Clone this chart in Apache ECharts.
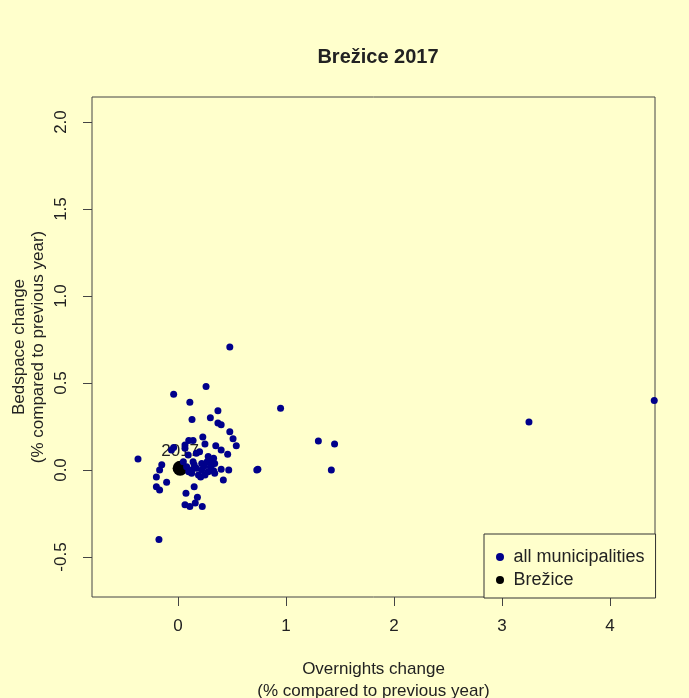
<!DOCTYPE html>
<html>
<head>
<meta charset="utf-8">
<script src="https://cdn.jsdelivr.net/npm/echarts@6/dist/echarts.min.js"></script>
<style>
  html, body { margin: 0; padding: 0; background: #FFFFCC; }
  #chart { width: 689px; height: 698px; }
</style>
</head>
<body>
<div id="chart"></div>
<script>
// ---- data ----
const title = 'Brežice 2017';
const highlightName = 'Brežice';
const highlightLabel = '2017';
const xTicks = [0, 1, 2, 3, 4];
const yTicks = [-0.5, 0, 0.5, 1, 1.5, 2];
// overnights change (x) and bedspace change (y) for all municipalities
const allX = [4.41, 3.25, 0.95, 1.30, 1.45, 1.42, 0.48, 0.26, -0.04, 0.11,
  0.37, 0.30, 0.13, 0.37, 0.40, 0.48, 0.51, 0.54, 0.23, 0.10,
  0.14, 0.25, 0.35, 0.40, 0.46, -0.37, -0.04, 0.73, 0.74, 0.40,
  0.47, 0.42, -0.17, -0.15, -0.20, -0.105, -0.20, -0.17, 0.15, 0.074,
  0.18, 0.065, 0.11, 0.16, 0.225, -0.176, 0.065, 0.095, 0.17, 0.20,
  0.28, 0.33, 0.14, 0.22, 0.27, 0.31, 0.34, 0.127, 0.17, 0.22,
  0.28, 0.33, 0.25, 0.19, 0.127, 0.08, 0.05, 0.30, 0.34, -0.06,
  0.065, 0.10, 0.24, 0.29, 0.21, 0.15];
const allY = [0.40, 0.276, 0.355, 0.167, 0.15, 0.0, 0.707, 0.48, 0.435, 0.39,
  0.34, 0.30, 0.29, 0.27, 0.26, 0.22, 0.18, 0.14, 0.19, 0.17,
  0.17, 0.15, 0.14, 0.115, 0.09, 0.063, 0.13, 0.0, 0.005, 0.005,
  0.0, -0.057, 0.0, 0.03, -0.04, -0.07, -0.096, -0.115, -0.096, -0.134,
  -0.157, -0.20, -0.21, -0.19, -0.21, -0.40, 0.144, 0.086, 0.096, 0.105,
  0.077, 0.067, 0.048, 0.038, 0.048, 0.029, 0.038, 0.0, 0.01, 0.0,
  -0.01, -0.004, -0.029, -0.029, -0.019, 0.019, 0.048, 0.019, -0.019, 0.115,
  0.125, -0.01, 0.02, 0.06, -0.04, 0.03];
const brezX = [0.02];
const brezY = [0.01];

// ---- chart ----
const allData = allX.map((x, i) => [x, allY[i]]);
const brezData = brezX.map((x, i) => [x, brezY[i]]);
const font = 'Liberation Sans, Arial, Helvetica, sans-serif';
const ink = '#222';
const chart = echarts.init(document.getElementById('chart'), null, { renderer: 'canvas' });
chart.setOption({
  backgroundColor: '#FFFFCC',
  animation: false,
  title: {
    text: title,
    left: 373, top: 42, textAlign: 'center',
    textStyle: { fontFamily: font, fontSize: 20, fontWeight: 'bold', color: ink }
  },
  grid: {
    left: 92, right: 34, top: 97, bottom: 101,
    outerBoundsMode: 'none', containLabel: false,
    show: true, borderColor: '#444', borderWidth: 1, backgroundColor: 'transparent'
  },
  xAxis: {
    type: 'value', min: -0.796, max: 4.417,
    name: 'Overnights change\n(% compared to previous year)',
    nameLocation: 'middle', nameGap: 61, nameMoveOverlap: false,
    nameTextStyle: { fontFamily: font, fontSize: 17, color: ink, lineHeight: 22 },
    axisLine: { show: false, onZero: false },
    axisTick: { show: true, length: 9, customValues: xTicks, lineStyle: { color: '#444' } },
    axisLabel: { customValues: xTicks, margin: 21, fontFamily: font, fontSize: 17, color: ink,
      formatter: v => String(v) },
    splitLine: { show: false }
  },
  yAxis: {
    type: 'value', min: -0.730, max: 2.144,
    name: 'Bedspace change\n(% compared to previous year)',
    nameLocation: 'middle', nameGap: 44, nameRotate: 90, nameMoveOverlap: false,
    nameTextStyle: { fontFamily: font, fontSize: 17, color: ink, lineHeight: 19 },
    axisLine: { show: false, onZero: false },
    axisTick: { show: true, length: 9, customValues: yTicks, lineStyle: { color: '#444' } },
    axisLabel: { customValues: yTicks, rotate: 90, margin: 22, fontFamily: font, fontSize: 17, color: ink,
      formatter: v => v.toFixed(1) },
    splitLine: { show: false }
  },
  legend: {
    orient: 'vertical', left: 484, top: 534,
    padding: [14, 11, 9, 12],
    itemWidth: 17, itemHeight: 8, itemGap: 5,
    borderColor: '#333', borderWidth: 1, borderRadius: 0,
    backgroundColor: '#FFFFCC',
    textStyle: { fontFamily: font, fontSize: 18, color: ink },
    data: [
      { name: 'all municipalities', icon: 'circle' },
      { name: highlightName, icon: 'circle' }
    ]
  },
  series: [
    {
      name: highlightName, type: 'scatter', data: brezData, z: 2,
      symbol: 'circle', symbolSize: 15, clip: true,
      itemStyle: { color: '#000', opacity: 1 },
      label: { show: true, position: 'top', distance: 1, formatter: highlightLabel,
        fontFamily: font, fontSize: 17, color: ink }
    },
    {
      name: 'all municipalities', type: 'scatter', data: allData, z: 3,
      symbol: 'circle', symbolSize: 7, clip: true,
      itemStyle: { color: '#00008B', opacity: 1 }
    }
  ]
});
</script>
</body>
</html>
